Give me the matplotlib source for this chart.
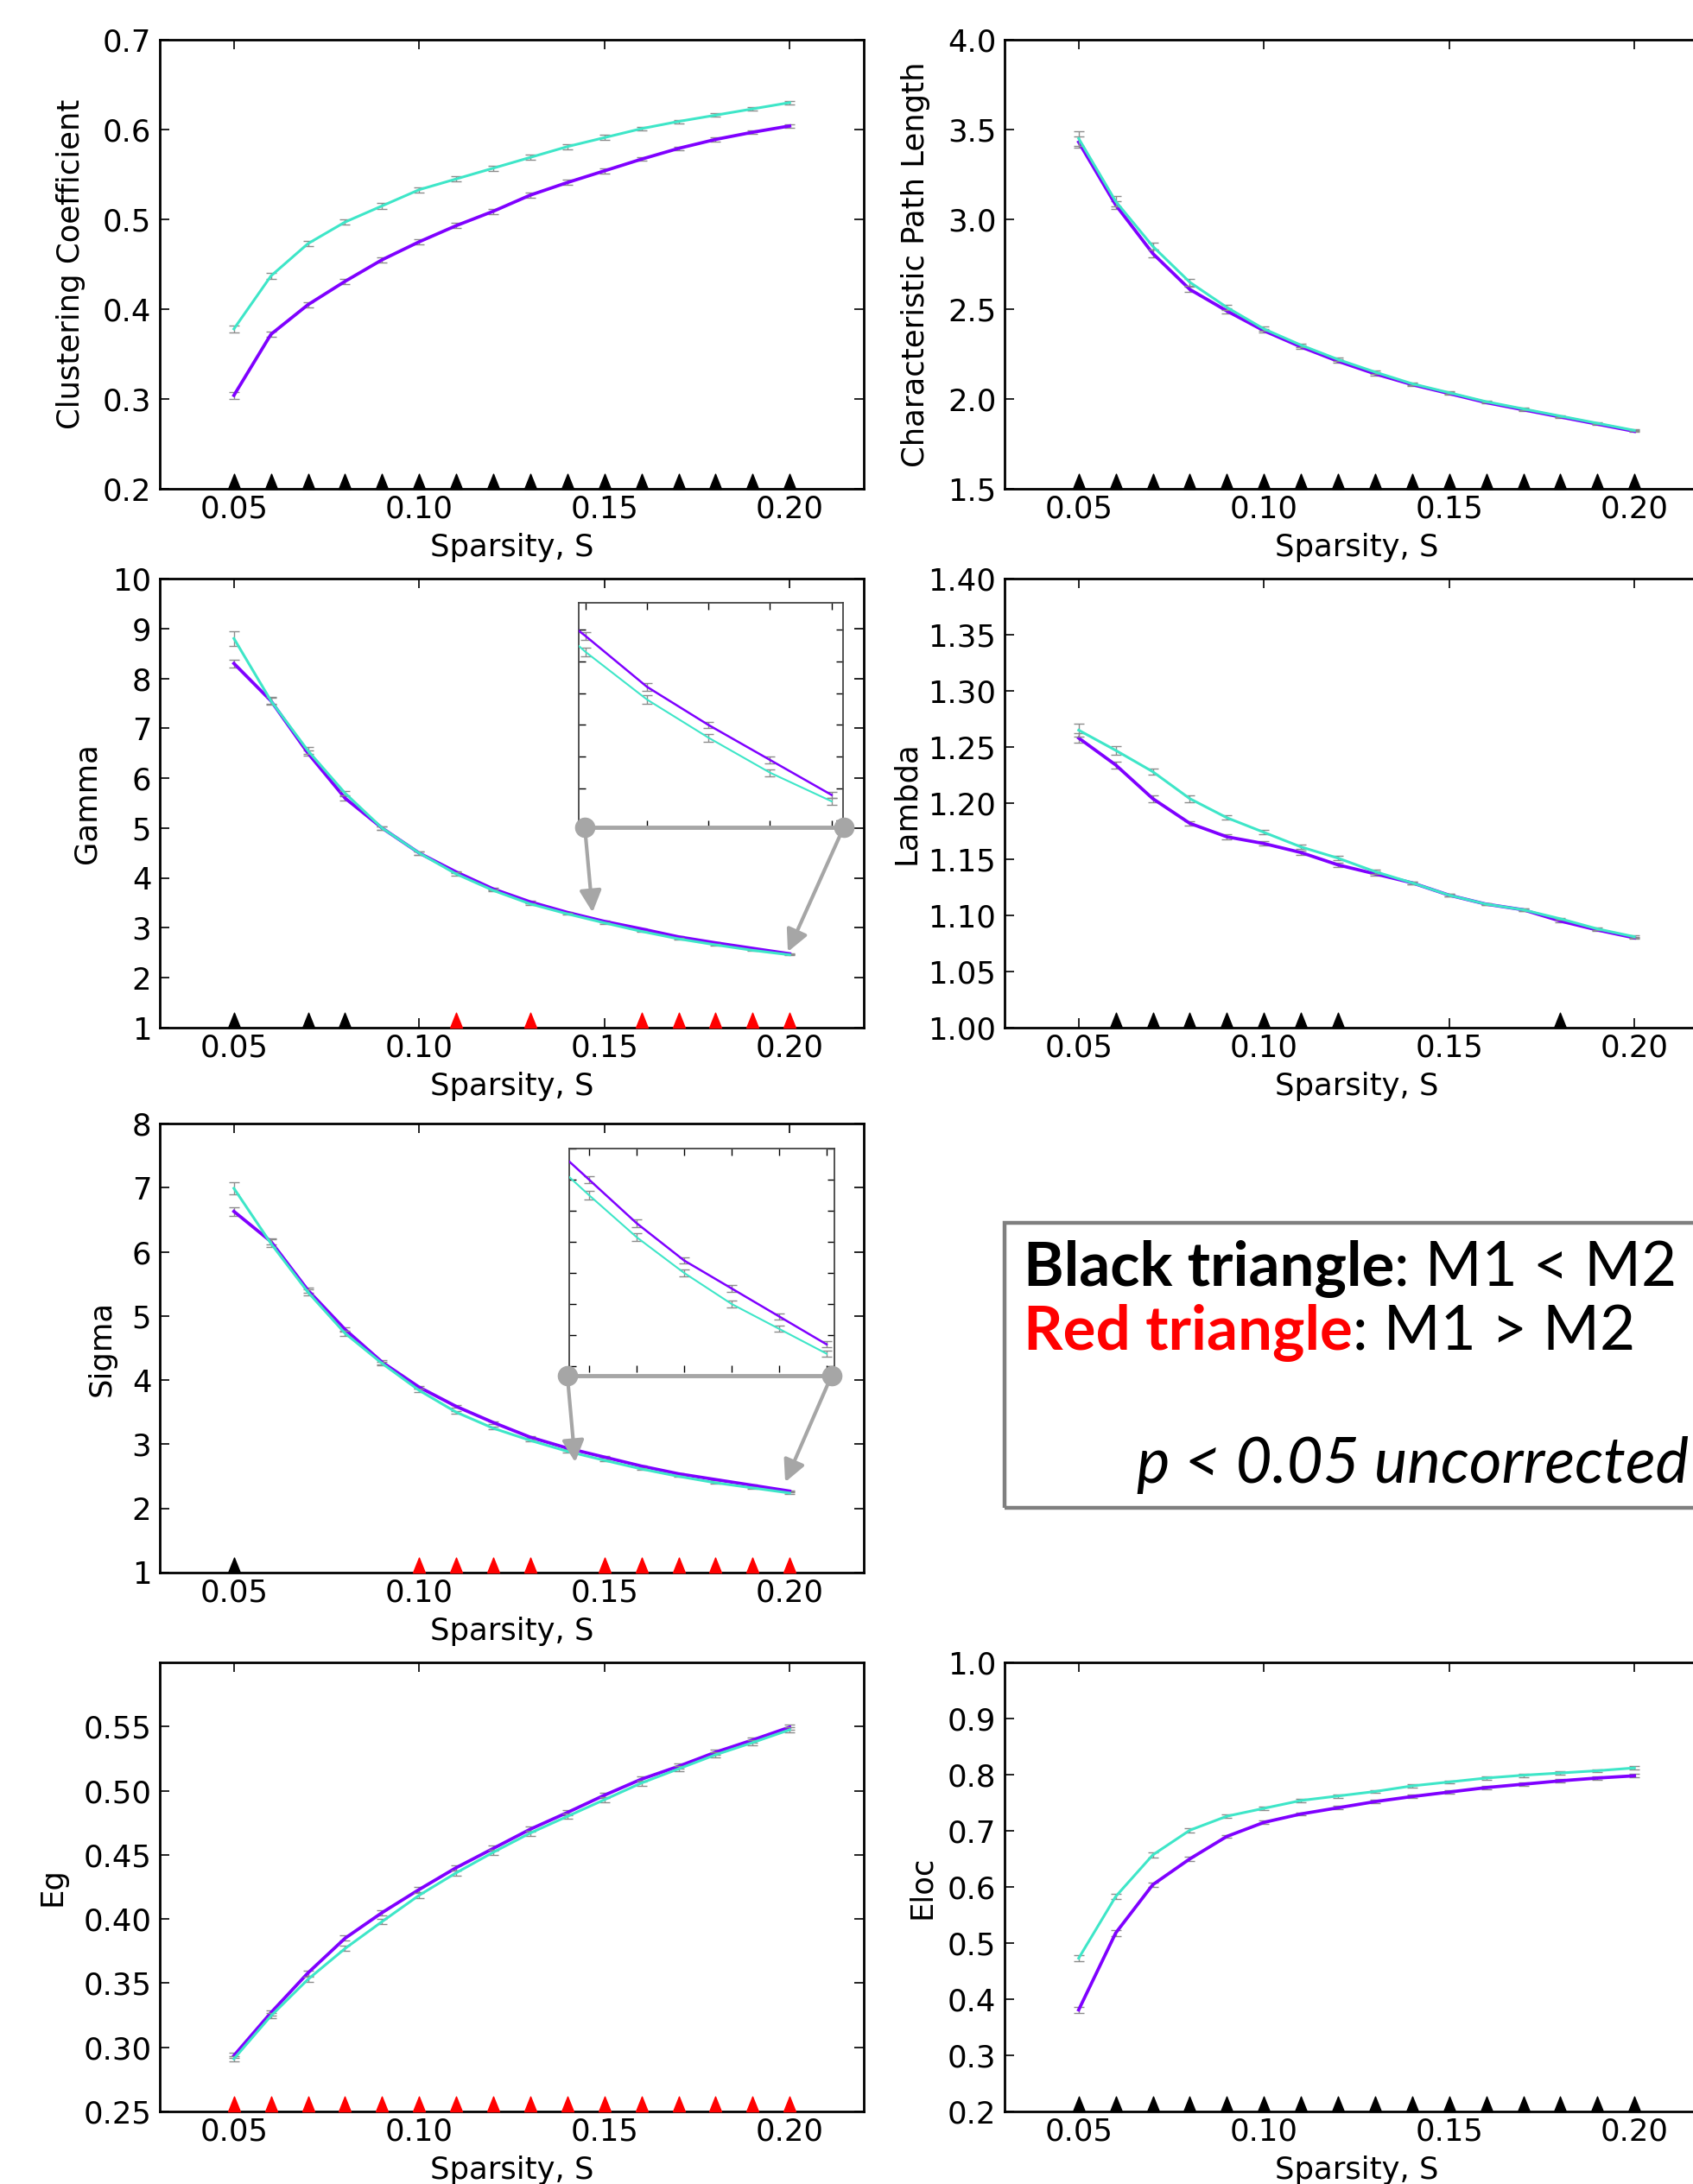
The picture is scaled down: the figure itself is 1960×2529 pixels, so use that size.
import matplotlib
matplotlib.use('Agg')
import matplotlib.pyplot as plt
from matplotlib.patches import Rectangle
from matplotlib.ticker import FormatStrFormatter

# sparsity levels
sparsity = [0.05, 0.06, 0.07, 0.08, 0.09, 0.10, 0.11, 0.12,
            0.13, 0.14, 0.15, 0.16, 0.17, 0.18, 0.19, 0.20]

# M1 = purple, M2 = turquoise
cc_m1 = [0.304, 0.372, 0.405, 0.431, 0.455, 0.475, 0.493, 0.509, 0.527, 0.541, 0.554, 0.567, 0.579, 0.589, 0.597, 0.604]
cc_m2 = [0.378, 0.437, 0.473, 0.497, 0.515, 0.533, 0.545, 0.557, 0.569, 0.581, 0.591, 0.601, 0.609, 0.616, 0.623, 0.630]
cc_err_m1 = [0.004, 0.003, 0.003, 0.003, 0.003, 0.003, 0.003, 0.003, 0.003, 0.003, 0.003, 0.002, 0.002, 0.002, 0.002, 0.002]
cc_err_m2 = [0.004, 0.003, 0.003, 0.003, 0.003, 0.003, 0.003, 0.003, 0.003, 0.003, 0.003, 0.002, 0.002, 0.002, 0.002, 0.002]
cc_sig = ['k'] * 16

cpl_m1 = [3.43, 3.08, 2.81, 2.61, 2.49, 2.38, 2.29, 2.21, 2.14, 2.08, 2.03, 1.98, 1.94, 1.90, 1.86, 1.82]
cpl_m2 = [3.45, 3.10, 2.85, 2.65, 2.51, 2.39, 2.30, 2.22, 2.15, 2.085, 2.035, 1.985, 1.945, 1.905, 1.865, 1.825]
cpl_err_m1 = [0.03, 0.02, 0.02, 0.015, 0.015, 0.01, 0.01, 0.01, 0.01, 0.008, 0.008, 0.006, 0.006, 0.005, 0.005, 0.005]
cpl_err_m2 = [0.04, 0.03, 0.02, 0.02, 0.015, 0.012, 0.01, 0.01, 0.01, 0.008, 0.008, 0.006, 0.006, 0.005, 0.005, 0.005]
cpl_sig = ['k'] * 16

gamma_m1 = [8.30, 7.55, 6.50, 5.60, 5.00, 4.50, 4.12, 3.78, 3.52, 3.31, 3.13, 2.98, 2.82, 2.70, 2.59, 2.48]
gamma_m2 = [8.80, 7.55, 6.55, 5.70, 5.00, 4.50, 4.08, 3.75, 3.48, 3.28, 3.10, 2.93, 2.78, 2.66, 2.55, 2.46]
gamma_err_m1 = [0.08, 0.06, 0.05, 0.04, 0.03, 0.03, 0.02, 0.02, 0.02, 0.015, 0.015, 0.012, 0.012, 0.01, 0.01, 0.01]
gamma_err_m2 = [0.15, 0.08, 0.07, 0.05, 0.04, 0.03, 0.03, 0.02, 0.02, 0.015, 0.015, 0.014, 0.013, 0.012, 0.011, 0.01]
gamma_sig = ['k', '', 'k', 'k', '', '', 'r', '', 'r', '', '', 'r', 'r', 'r', 'r', 'r']

lambda_m1 = [1.258, 1.234, 1.204, 1.182, 1.170, 1.164, 1.156, 1.145, 1.137, 1.129, 1.118, 1.110, 1.105, 1.095, 1.087, 1.080]
lambda_m2 = [1.265, 1.247, 1.228, 1.204, 1.187, 1.174, 1.161, 1.151, 1.139, 1.129, 1.118, 1.110, 1.105, 1.097, 1.088, 1.081]
lambda_err_m1 = [0.004, 0.003, 0.003, 0.002, 0.002, 0.002, 0.002, 0.002, 0.002, 0.001, 0.001, 0.001, 0.001, 0.001, 0.001, 0.001]
lambda_err_m2 = [0.006, 0.004, 0.003, 0.003, 0.002, 0.002, 0.002, 0.002, 0.002, 0.001, 0.001, 0.001, 0.001, 0.001, 0.001, 0.001]
lambda_sig = ['', 'k', 'k', 'k', 'k', 'k', 'k', 'k', '', '', '', '', '', 'k', '', '']

sigma_m1 = [6.63, 6.16, 5.40, 4.79, 4.28, 3.89, 3.59, 3.34, 3.11, 2.94, 2.80, 2.66, 2.54, 2.45, 2.36, 2.27]
sigma_m2 = [6.99, 6.13, 5.37, 4.73, 4.26, 3.84, 3.50, 3.25, 3.06, 2.89, 2.75, 2.615, 2.50, 2.40, 2.32, 2.24]
sigma_err_m1 = [0.07, 0.05, 0.04, 0.03, 0.03, 0.02, 0.02, 0.02, 0.015, 0.015, 0.012, 0.012, 0.01, 0.01, 0.01, 0.01]
sigma_err_m2 = [0.10, 0.06, 0.05, 0.04, 0.03, 0.03, 0.02, 0.02, 0.015, 0.015, 0.013, 0.012, 0.012, 0.011, 0.01, 0.01]
sigma_sig = ['k', '', '', '', '', 'r', 'r', 'r', 'r', '', 'r', 'r', 'r', 'r', 'r', 'r']

eg_m1 = [0.2935, 0.327, 0.358, 0.385, 0.405, 0.423, 0.440, 0.455, 0.470, 0.483, 0.4965, 0.509, 0.519, 0.530, 0.5395, 0.5495]
eg_m2 = [0.291, 0.3245, 0.353, 0.377, 0.398, 0.4185, 0.436, 0.452, 0.467, 0.480, 0.493, 0.506, 0.517, 0.528, 0.5375, 0.5475]
eg_err_m1 = [0.002, 0.002, 0.002, 0.002, 0.002, 0.002, 0.002, 0.002, 0.002, 0.002, 0.002, 0.002, 0.002, 0.002, 0.002, 0.002]
eg_err_m2 = [0.002, 0.002, 0.002, 0.002, 0.002, 0.002, 0.002, 0.002, 0.002, 0.002, 0.002, 0.002, 0.002, 0.002, 0.002, 0.002]
eg_sig = ['r'] * 16

eloc_m1 = [0.381, 0.518, 0.604, 0.650, 0.690, 0.715, 0.730, 0.741, 0.752, 0.761, 0.769, 0.777, 0.783, 0.789, 0.794, 0.798]
eloc_m2 = [0.473, 0.583, 0.657, 0.701, 0.726, 0.740, 0.754, 0.762, 0.770, 0.780, 0.787, 0.794, 0.799, 0.803, 0.807, 0.812]
eloc_err_m1 = [0.005, 0.005, 0.004, 0.004, 0.003, 0.003, 0.003, 0.003, 0.003, 0.003, 0.003, 0.003, 0.003, 0.003, 0.003, 0.003]
eloc_err_m2 = [0.005, 0.005, 0.004, 0.004, 0.003, 0.003, 0.003, 0.003, 0.003, 0.003, 0.003, 0.003, 0.003, 0.003, 0.003, 0.003]
eloc_sig = ['k'] * 16

xticks = [0.05, 0.10, 0.15, 0.20]

cor_m1 = '#7f00ff'
cor_m2 = '#3ee6c8'
cor_err = '#8c8c8c'
cor_anot = '#a6a6a6'

plt.rcParams['font.family'] = 'DejaVu Sans'
plt.rcParams['xtick.direction'] = 'in'
plt.rcParams['ytick.direction'] = 'in'
plt.rcParams['xtick.top'] = True
plt.rcParams['ytick.right'] = True
plt.rcParams['xtick.major.size'] = 8
plt.rcParams['ytick.major.size'] = 8
plt.rcParams['xtick.major.width'] = 1.2
plt.rcParams['ytick.major.width'] = 1.2
plt.rcParams['xtick.major.pad'] = 5
plt.rcParams['ytick.major.pad'] = 7
plt.rcParams['axes.linewidth'] = 2

W, H = 1960.0, 2529.0
fig = plt.figure(figsize=(W / 100, H / 100), dpi=100)

# triangle marker with its base on the data point
tri = [(-0.4, 0), (0.4, 0), (0, 1), (-0.4, 0)]


def caixa(left, top, w=815, h=520):
    return [left / W, 1 - (top + h) / H, w / W, h / H]


def desenha(ax, m1, m2, e1, e2, lw1=2.7, lw2=2.2, cap=4.5):
    ax.errorbar(sparsity, m1, yerr=e1, color=cor_m1, lw=lw1, ecolor=cor_err,
                elinewidth=1, capsize=cap, capthick=1, zorder=3)
    ax.errorbar(sparsity, m2, yerr=e2, color=cor_m2, lw=lw2, ecolor=cor_err,
                elinewidth=1, capsize=cap, capthick=1, zorder=4)


def painel(pos, m1, m2, e1, e2, sig, ylim, yticks, fmt, ylabel, offset):
    ax = fig.add_axes(caixa(*pos))
    desenha(ax, m1, m2, e1, e2)
    ax.set_xlim(0.03, 0.22)
    ax.set_ylim(*ylim)
    ax.set_xticks(xticks)
    ax.xaxis.set_major_formatter(FormatStrFormatter('%.2f'))
    ax.set_yticks(yticks)
    ax.yaxis.set_major_formatter(FormatStrFormatter(fmt))
    ax.tick_params(labelsize=25.5)
    ax.set_xlabel('Sparsity, S', fontsize=25.5, labelpad=7.5)
    ax.set_ylabel(ylabel, fontsize=25.5, va='center')
    ax.yaxis.set_label_coords(-offset / 815.0, 0.5)
    for cor in ['k', 'r']:
        xs = [s for s, c in zip(sparsity, sig) if c == cor]
        if xs:
            ax.plot(xs, [ylim[0]] * len(xs), ls='none', marker=tri, ms=25,
                    color='black' if cor == 'k' else 'red', clip_on=False, zorder=6)
    return ax


def zoom_inset(ax, bounds, xlim, ylim, m1, m2, e1, e2, circ_x, circ_y, tips):
    ins = ax.inset_axes(bounds)
    desenha(ins, m1, m2, e1, e2, lw1=1.8, lw2=1.5, cap=4)
    ins.set_xlim(*xlim)
    ins.set_ylim(*ylim)
    ins.set_xticklabels([])
    ins.set_yticklabels([])
    ins.tick_params(length=6, width=1)
    for lado in ['top', 'left', 'right']:
        ins.spines[lado].set_linewidth(1.3)
        ins.spines[lado].set_color('#444444')
    ins.spines['bottom'].set_visible(False)
    ax.plot(circ_x, [circ_y, circ_y], color=cor_anot, lw=3.5, marker='o', ms=16,
            clip_on=False, zorder=7)
    for cx, tip in zip(circ_x, tips):
        ax.annotate('', xy=tip, xytext=(cx, circ_y),
                    arrowprops=dict(arrowstyle='-|>', color=cor_anot, lw=3,
                                    mutation_scale=38, shrinkA=0, shrinkB=0),
                    zorder=7, annotation_clip=False)
    return ins


ax1 = painel((185, 46), cc_m1, cc_m2, cc_err_m1, cc_err_m2, cc_sig,
             (0.2, 0.7), [0.2, 0.3, 0.4, 0.5, 0.6, 0.7], '%.1f',
             'Clustering Coefficient', 103)
ax2 = painel((1163, 46), cpl_m1, cpl_m2, cpl_err_m1, cpl_err_m2, cpl_sig,
             (1.5, 4.0), [1.5, 2.0, 2.5, 3.0, 3.5, 4.0], '%.1f',
             'Characteristic Path Length', 103)
ax3 = painel((185, 670), gamma_m1, gamma_m2, gamma_err_m1, gamma_err_m2, gamma_sig,
             (1, 10), list(range(1, 11)), '%d', 'Gamma', 84)
ax4 = painel((1163, 670), lambda_m1, lambda_m2, lambda_err_m1, lambda_err_m2, lambda_sig,
             (1.0, 1.4), [1.00, 1.05, 1.10, 1.15, 1.20, 1.25, 1.30, 1.35, 1.40], '%.2f',
             'Lambda', 114)
ax5 = painel((185, 1301), sigma_m1, sigma_m2, sigma_err_m1, sigma_err_m2, sigma_sig,
             (1, 8), list(range(1, 9)), '%d', 'Sigma', 67)
ax6 = painel((185, 1925), eg_m1, eg_m2, eg_err_m1, eg_err_m2, eg_sig,
             (0.25, 0.60), [0.25, 0.30, 0.35, 0.40, 0.45, 0.50, 0.55], '%.2f',
             'Eg', 124)
ax7 = painel((1163, 1925), eloc_m1, eloc_m2, eloc_err_m1, eloc_err_m2, eloc_sig,
             (0.2, 1.0), [0.2, 0.3, 0.4, 0.5, 0.6, 0.7, 0.8, 0.9, 1.0], '%.1f',
             'Eloc', 96)

# zoomed views of the tail of Gamma and Sigma
zoom_inset(ax3, [0.595, 0.446, 0.375, 0.5], (0.1589, 0.2018), (2.378, 3.084),
           gamma_m1, gamma_m2, gamma_err_m1, gamma_err_m2,
           [0.1447, 0.2146], 5.02, [(0.1468, 3.31), (0.1995, 2.52)])
zoom_inset(ax5, [0.5816, 0.446, 0.377, 0.498], (0.1458, 0.2017), (2.18, 2.90),
           sigma_m1, sigma_m2, sigma_err_m1, sigma_err_m2,
           [0.1400, 0.2113], 4.07, [(0.1421, 2.72), (0.1988, 2.41)])

# legend box
fig.patches.append(Rectangle((1163 / W, 1 - 1746 / H), 830 / W, 330 / H,
                             transform=fig.transFigure, fill=False,
                             edgecolor='#7f7f7f', lw=3.2, zorder=10))

renderer = fig.canvas.get_renderer()
fonte = 'Lato'


def linha(x, y, partes, tam=50):
    for texto, cor, peso, estilo in partes:
        t = fig.text(x / W, 1 - y / H, texto, color=cor, fontsize=tam, family=fonte,
                     weight=peso, style=estilo, va='baseline', ha='left', zorder=11)
        bb = t.get_window_extent(renderer)
        x = bb.x1


linha(1185, 1489, [('Black triangle', 'black', 'bold', 'normal'),
                   (': M1 < M2', 'black', 'normal', 'normal')], 51)
linha(1185, 1563, [('Red triangle', 'red', 'bold', 'normal'),
                   (': M1 > M2', 'black', 'normal', 'normal')], 51)
linha(1316, 1717, [('p < 0.05 uncorrected', 'black', 'normal', 'italic')], 52.3)

fig.savefig('out.png', dpi=100)
